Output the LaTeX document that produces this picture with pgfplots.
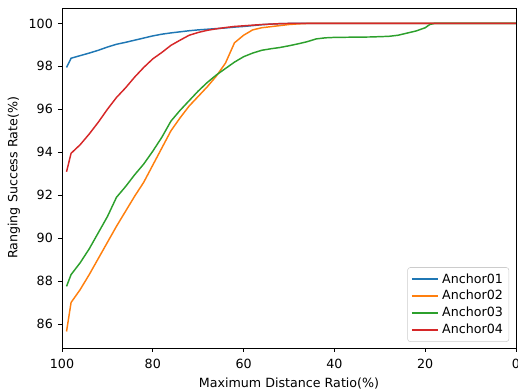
\documentclass[border=0pt]{standalone}
\usepackage{pgfplots}
\pgfplotsset{compat=1.18}
\usepackage{fontspec}
\setmainfont{DejaVu Sans}
\definecolor{c0}{HTML}{1F77B4}
\definecolor{c1}{HTML}{FF7F0E}
\definecolor{c2}{HTML}{2CA02C}
\definecolor{c3}{HTML}{D62728}
\begin{document}
\begin{tikzpicture}
\fontsize{9.5}{11.5}\selectfont
\useasboundingbox (-46.5pt,-30.75pt) rectangle (342pt,261pt);
\begin{axis}[
  at={(0,0)}, anchor=south west,
  scale only axis,
  width=340.5pt, height=255pt,
  x dir=reverse,
  xmin=0, xmax=100,
  ymin=84.88, ymax=100.72,
  xtick={0,20,40,60,80,100},
  ytick={86,88,90,92,94,96,98,100},
  tick pos=left,
  tick align=outside,
  major tick length=3pt,
  every tick/.style={black, line width=0.6pt},
  axis line style={line width=0.6pt},
  /pgf/number format/assume math mode=true,
  tick label style={font=\fontsize{9.5}{11.5}\selectfont},
  xticklabel style={yshift=-2pt},
  yticklabel style={xshift=-0.5pt},
  label style={font=\fontsize{9.5}{11.5}\selectfont},
  xlabel={Maximum Distance Ratio(\%)},
  ylabel={Ranging Success Rate(\%)},
  legend style={at={(axis description cs:0.985,0.018)}, anchor=south east,
    draw=black!20, rounded corners=2pt, font=\fontsize{9.5}{11.5}\selectfont,
    row sep=0pt, inner sep=2.5pt},
  legend cell align=left,
  legend image code/.code={\draw[#1, line width=1.5pt] (0cm,0cm) -- (0.7cm,0cm);},
]
\addplot[c0, line width=1.1pt] coordinates {
(99,97.95) (98,98.38) (96,98.5) (94,98.62) (92,98.75) (90,98.9) (88,99.03)
(86,99.12) (84,99.22) (82,99.32) (80,99.42) (78,99.5) (76,99.56) (74,99.61)
(72,99.66) (70,99.7) (68,99.73) (66,99.76) (64,99.79) (62,99.83) (60,99.86)
(58,99.9) (56,99.94) (54,99.97) (52,99.99) (50,100) (0,100)
};
\addlegendentry{Anchor01}
\addplot[c1, line width=1.1pt] coordinates {
(99,85.65) (98,87.0) (96,87.6) (94,88.3) (92,89.05) (90,89.8) (88,90.55)
(86,91.25) (84,91.95) (82,92.6) (80,93.4) (78,94.2) (76,95.0) (74,95.6)
(72,96.15) (70,96.6) (68,97.05) (66,97.55) (64,98.15) (62,99.1) (60,99.45)
(58,99.7) (56,99.8) (54,99.85) (52,99.9) (50,99.95) (48,99.98) (46,100) (0,100)
};
\addlegendentry{Anchor02}
\addplot[c2, line width=1.1pt] coordinates {
(99,87.75) (98,88.3) (96,88.85) (94,89.5) (92,90.25) (90,91.0) (88,91.9)
(87,92.15) (86,92.4) (84,92.95) (82,93.45) (80,94.05) (78,94.7) (76,95.45)
(74,95.95) (72,96.4) (70,96.85) (68,97.25) (66,97.6) (64,97.9) (62,98.2)
(60,98.45) (58,98.62) (56,98.75) (54,98.82) (52,98.88) (50,98.96) (48,99.05)
(46,99.15) (44,99.28) (42,99.33) (40,99.35) (36,99.36) (32,99.37) (28,99.4)
(26,99.45) (24,99.55) (22,99.65) (20,99.8) (19,99.95) (18,100) (0,100)
};
\addlegendentry{Anchor03}
\addplot[c3, line width=1.1pt] coordinates {
(99,93.09) (98,93.95) (96,94.35) (94,94.85) (92,95.4) (90,96.0) (88,96.55)
(86,97.0) (84,97.5) (82,97.95) (80,98.35) (78,98.65) (76,98.98) (74,99.22)
(72,99.45) (70,99.58) (68,99.68) (66,99.75) (64,99.81) (62,99.86) (60,99.89)
(58,99.92) (56,99.95) (54,99.97) (52,99.99) (50,100) (0,100)
};
\addlegendentry{Anchor04}
\end{axis}
\end{tikzpicture}
\end{document}
